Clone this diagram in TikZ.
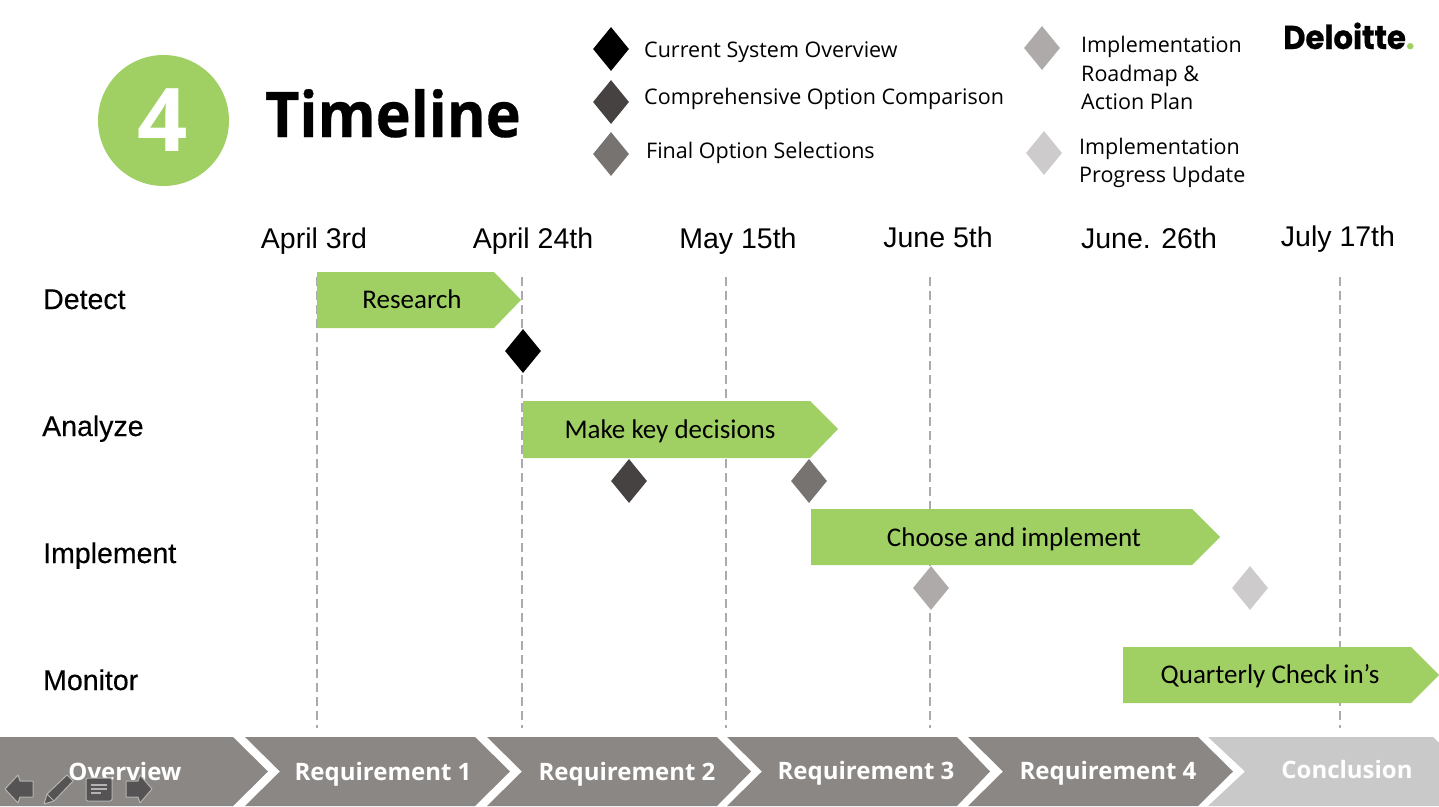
\documentclass[tikz,border=0pt]{standalone}
\usepackage{fontspec}
\usepackage{tikz}
\usetikzlibrary{shapes.geometric}
\setmainfont{Open Sans}
\newfontfamily\titlefont{Open Sans}[BoldFeatures={FakeStretch=0.94,FakeBold=0.5}]
\newfontfamily\carlitofont{Carlito}
\newfontfamily\liberfont{Liberation Sans}
\newfontfamily\rowfont{Liberation Sans}[FakeBold=0.3]
\newfontfamily\logofont{Poppins}[BoldFeatures={FakeStretch=0.93,FakeBold=0.6}]
\definecolor{leafgreen}{HTML}{A0D063}
\definecolor{navgray}{HTML}{8B8785}
\definecolor{navlight}{HTML}{C9C9C9}
\definecolor{iconfill}{HTML}{555353}
\definecolor{iconedge}{HTML}{B5B3B1}
\definecolor{gridgray}{HTML}{ABABAB}
\definecolor{keydark}{HTML}{464241}
\definecolor{keymid}{HTML}{767371}
\definecolor{keysoft}{HTML}{ADAAA9}
\definecolor{keypale}{HTML}{CDCBCC}
\tikzset{
    datelabel/.style={anchor=base, font=\liberfont\fontsize{28.5}{30}\selectfont},
    rowlabel/.style={anchor=base west, inner sep=0pt, font=\rowfont\fontsize{28.5}{30}\selectfont},
    barlabel/.style={anchor=base, font=\carlitofont\fontsize{27}{30}\selectfont},
    keylabel/.style={anchor=base west, inner sep=0pt, font=\fontsize{21.5}{28.5}\selectfont},
    keyblock/.style={anchor=west, inner sep=0pt, align=left, font=\fontsize{21.5}{28.5}\selectfont},
    navlabel/.style={anchor=base, text=white, font=\bfseries\fontsize{24}{30}\selectfont},
    milestone/.style={diamond, inner sep=0pt, minimum width=36pt, minimum height=44pt},
    gridline/.style={gridgray, line width=1.5pt, dash pattern=on 9pt off 5pt},
    navicon/.style={fill=iconfill, draw=iconedge, line width=1pt, line join=round},
}
\begin{document}
\begin{tikzpicture}[x=1pt, y=-1pt]
    \useasboundingbox (0,0) rectangle (1439,806);

    % heading
    \node[circle, fill=leafgreen, minimum size=131pt, inner sep=0pt] (badge) at (163.5,120.5) {};
    \node[anchor=base, inner sep=0pt, text=white, font=\bfseries\fontsize{88}{90}\selectfont] (badgenum) at (163,151) {4};
    \node[anchor=base west, inner sep=0pt, font=\titlefont\bfseries\fontsize{63}{70}\selectfont] (title) at (265,137) {Timeline};
    \node[anchor=base west, inner sep=0pt, font=\logofont\bfseries\fontsize{33}{40}\selectfont] (logo) at (1283,49) {Deloitte\textcolor{leafgreen}{.}};

    % legend
    \node[milestone, fill=black] (keya) at (611,49) {};
    \node[milestone, fill=keydark] (keyb) at (611,102) {};
    \node[milestone, fill=keymid] (keyc) at (611,154) {};
    \node[milestone, fill=keysoft] (keyd) at (1042,48) {};
    \node[milestone, fill=keypale] (keye) at (1044,153) {};
    \node[keylabel] (keytexta) at (644,57) {Current System Overview};
    \node[keylabel] (keytextb) at (644,104) {Comprehensive Option Comparison};
    \node[keylabel] (keytextc) at (646,158) {Final Option Selections};
    \node[keyblock] (keytextd) at (1081,73) {Implementation\\Roadmap \&\\Action Plan};
    \node[keyblock] (keytexte) at (1079,163) {Implementation\\Progress Update};

    % dates
    \node[datelabel] (datea) at (314,248) {April 3rd};
    \node[datelabel] (dateb) at (533,248) {April 24th};
    \node[datelabel] (datec) at (738,248) {May 15th};
    \node[datelabel] (dated) at (938,247) {June 5th};
    \node[datelabel] (datee) at (1149,248) {June. 26th};
    \node[datelabel] (datef) at (1338,246) {July 17th};

    % rows
    \node[rowlabel] (rowa) at (43,309) {Detect};
    \node[rowlabel] (rowb) at (42,436) {Analyze};
    \node[rowlabel] (rowc) at (43,563) {Implement};
    \node[rowlabel] (rowd) at (43,690) {Monitor};

    % grid
    \coordinate (gridatop) at (317,277);
    \coordinate (gridabot) at (317,728);
    \coordinate (gridbtop) at (522,277);
    \coordinate (gridbbot) at (522,728);
    \coordinate (gridctop) at (726,277);
    \coordinate (gridcbot) at (726,728);
    \coordinate (griddtop) at (930,277);
    \coordinate (griddbot) at (930,728);
    \coordinate (gridetop) at (1340,277);
    \coordinate (gridebot) at (1340,728);
    \draw[gridline] (gridatop) -- (gridabot);
    \draw[gridline] (gridbtop) -- (gridbbot);
    \draw[gridline] (gridctop) -- (gridcbot);
    \draw[gridline] (griddtop) -- (griddbot);
    \draw[gridline] (gridetop) -- (gridebot);

    % bars
    \fill[leafgreen] (317,272) -- (494,272) -- (521,300) -- (494,328) -- (317,328) -- cycle;
    \fill[leafgreen] (523,401) -- (810,401) -- (838,429) -- (810,458) -- (523,458) -- cycle;
    \fill[leafgreen] (811,509) -- (1192,509) -- (1220,537) -- (1192,565) -- (811,565) -- cycle;
    \fill[leafgreen] (1123,647) -- (1411,647) -- (1439,675) -- (1411,703) -- (1123,703) -- cycle;
    \node[barlabel] (bara) at (412,308) {Research};
    \node[barlabel] (barb) at (670,438) {Make key decisions};
    \node[barlabel] (barc) at (1014,546) {Choose and implement};
    \node[barlabel] (bard) at (1270,683) {Quarterly Check in’s};

    % milestones
    \node[milestone, fill=black] (marka) at (523,351) {};
    \node[milestone, fill=keydark] (markb) at (629,481) {};
    \node[milestone, fill=keymid] (markc) at (809,481) {};
    \node[milestone, fill=keysoft] (markd) at (931,588) {};
    \node[milestone, fill=keypale] (marke) at (1250,588) {};

    % navigation strip
    \fill[navgray] (0,737) -- (233,737) -- (268,771.5) -- (233,806) -- (0,806) -- cycle;
    \fill[navgray] (245,737) -- (475,737) -- (510,771.5) -- (475,806) -- (245,806) -- (280,771.5) -- cycle;
    \fill[navgray] (487,737) -- (717,737) -- (751,771.5) -- (717,806) -- (487,806) -- (522,771.5) -- cycle;
    \fill[navgray] (727,737) -- (957,737) -- (990,771.5) -- (957,806) -- (727,806) -- (762,771.5) -- cycle;
    \fill[navgray] (968,737) -- (1198,737) -- (1233,771.5) -- (1198,806) -- (968,806) -- (1003,771.5) -- cycle;
    \fill[navlight] (1208,737) -- (1433,737) -- (1439,743) -- (1439,806) -- (1208,806) -- (1245,771.5) -- cycle;
    \node[navlabel] (nava) at (125,780) {Overview};
    \node[navlabel] (navb) at (383,780) {Requirement 1};
    \node[navlabel] (navc) at (627,780) {Requirement 2};
    \node[navlabel] (navd) at (866,779) {Requirement 3};
    \node[navlabel] (nave) at (1108,779) {Requirement 4};
    \node[navlabel] (navf) at (1347,778) {Conclusion};

    % slide show buttons
    \draw[navicon] (5,789) -- (18,775) -- (20,781) -- (33,781) -- (33,797) -- (20,797) -- (18,803) -- cycle;
    \draw[navicon] (44,804) -- (47,794) -- (67,775) -- (73,781) -- (54,801) -- cycle;
    \draw[iconedge, line width=1pt] (47,794) -- (54,801);
    \draw[navicon, rounded corners=2pt] (86,778) rectangle (112,801);
    \draw[iconedge, line width=1.2pt] (91,785) -- (107,785);
    \draw[iconedge, line width=1.2pt] (91,789) -- (107,789);
    \draw[iconedge, line width=1.2pt] (91,793) -- (101,793);
    \draw[navicon] (152,789) -- (140,775) -- (138,781) -- (126,781) -- (126,797) -- (138,797) -- (140,803) -- cycle;
\end{tikzpicture}
\end{document}
